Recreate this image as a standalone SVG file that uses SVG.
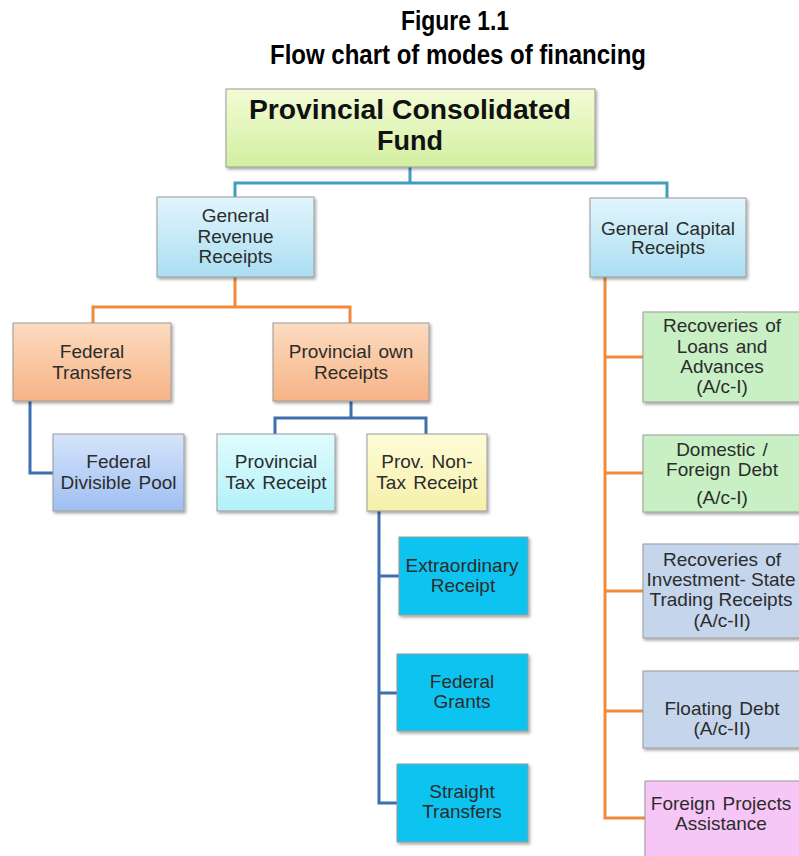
<svg xmlns="http://www.w3.org/2000/svg" width="799" height="856" viewBox="0 0 799 856">
<defs>
<linearGradient id="gTop" x1="0" y1="0" x2="0" y2="1"><stop offset="0" stop-color="#f3fcd6"/><stop offset="1" stop-color="#d2efa0"/></linearGradient>
<linearGradient id="gBlue" x1="0" y1="0" x2="0" y2="1"><stop offset="0" stop-color="#e2f5fc"/><stop offset="1" stop-color="#a9def2"/></linearGradient>
<linearGradient id="gOrange" x1="0" y1="0" x2="0" y2="1"><stop offset="0" stop-color="#fcdcc0"/><stop offset="1" stop-color="#f7b386"/></linearGradient>
<linearGradient id="gPool" x1="0" y1="0" x2="0" y2="1"><stop offset="0" stop-color="#d6e4fa"/><stop offset="1" stop-color="#9ebff2"/></linearGradient>
<linearGradient id="gCyan" x1="0" y1="0" x2="0" y2="1"><stop offset="0" stop-color="#e0fcfe"/><stop offset="1" stop-color="#b2f1f9"/></linearGradient>
<linearGradient id="gYellow" x1="0" y1="0" x2="0" y2="1"><stop offset="0" stop-color="#fefcd8"/><stop offset="1" stop-color="#f6f0aa"/></linearGradient>
<filter id="sh" x="-10%" y="-10%" width="125%" height="130%"><feDropShadow dx="1.5" dy="2" stdDeviation="1.5" flood-color="#000" flood-opacity="0.35"/></filter>
</defs>
<style>
.box{stroke:#9a9a9a;stroke-width:1;filter:url(#sh)}
.t{font-family:"Liberation Sans",Arial,sans-serif;font-size:19px;fill:#2c2c2c;text-anchor:middle;word-spacing:2px}
.title{font-family:"Liberation Sans Narrow","Liberation Sans",Arial,sans-serif;font-size:27px;font-weight:bold;fill:#000;text-anchor:middle}
.top{font-family:"Liberation Sans",Arial,sans-serif;font-size:27px;font-weight:bold;fill:#111;text-anchor:middle}
.teal{stroke:#3f9dbf;stroke-width:3;fill:none}
.org{stroke:#f28a3c;stroke-width:3;fill:none}
.blu{stroke:#3e6fae;stroke-width:3;fill:none}
</style>
<rect width="799" height="856" fill="#ffffff"/>
<g id="title">
<text class="title" x="455" y="30" textLength="108" lengthAdjust="spacingAndGlyphs">Figure 1.1</text>
<text class="title" x="458" y="64" textLength="376" lengthAdjust="spacingAndGlyphs">Flow chart of modes of financing</text>
</g>
<g id="connectors">
<path class="teal" d="M410,167 V183 M235,197 V183 H667 V198"/>
<path class="org" d="M235,277 V307 M93,323 V307 H350 V323"/>
<path class="blu" d="M30,401 V473 H53"/>
<path class="blu" d="M351,401 V418 M275,434 V418 H426 V434"/>
<path class="blu" d="M379,511 V803 H399 M379,576 H399 M379,693 H399"/>
<path class="org" d="M605,277 V818 H645 M605,357 H643 M605,473 H643 M605,591 H643 M605,711 H643"/>
</g>
<g id="n_fund">
<rect class="box" x="226" y="89" width="369" height="78" fill="url(#gTop)"/>
<text class="top" x="410" y="119" textLength="322" lengthAdjust="spacingAndGlyphs">Provincial Consolidated</text>
<text class="top" x="410" y="150">Fund</text>
</g>
<g id="n_grr">
<rect class="box" x="157" y="197" width="157" height="80" fill="url(#gBlue)"/>
<text class="t" x="235.5" y="222">General</text>
<text class="t" x="235.5" y="243">Revenue</text>
<text class="t" x="235.5" y="263">Receipts</text>
</g>
<g id="n_gcr">
<rect class="box" x="590" y="198" width="156" height="79" fill="url(#gBlue)"/>
<text class="t" x="668" y="235">General Capital</text>
<text class="t" x="668" y="254">Receipts</text>
</g>
<g id="n_ft">
<rect class="box" x="13" y="323" width="158" height="78" fill="url(#gOrange)"/>
<text class="t" x="92" y="358">Federal</text>
<text class="t" x="92" y="379">Transfers</text>
</g>
<g id="n_por">
<rect class="box" x="273" y="323" width="156" height="78" fill="url(#gOrange)"/>
<text class="t" x="351" y="358">Provincial own</text>
<text class="t" x="351" y="379">Receipts</text>
</g>
<g id="n_fdp">
<rect class="box" x="53" y="434" width="131" height="77" fill="url(#gPool)"/>
<text class="t" x="118.5" y="468">Federal</text>
<text class="t" x="118.5" y="489">Divisible Pool</text>
</g>
<g id="n_ptr">
<rect class="box" x="217" y="434" width="118" height="77" fill="url(#gCyan)"/>
<text class="t" x="276" y="468">Provincial</text>
<text class="t" x="276" y="489">Tax Receipt</text>
</g>
<g id="n_pntr">
<rect class="box" x="367" y="434" width="120" height="77" fill="url(#gYellow)"/>
<text class="t" x="427" y="468">Prov. Non-</text>
<text class="t" x="427" y="489">Tax Receipt</text>
</g>
<g id="n_er">
<rect class="box" x="399" y="537" width="129" height="78" fill="#0cc3f0"/>
<text class="t" x="462" y="572">Extraordinary</text>
<text class="t" x="463" y="592">Receipt</text>
</g>
<g id="n_fg">
<rect class="box" x="397" y="654" width="131" height="77" fill="#0cc3f0"/>
<text class="t" x="462" y="688">Federal</text>
<text class="t" x="462" y="708">Grants</text>
</g>
<g id="n_st">
<rect class="box" x="397" y="764" width="131" height="78" fill="#0cc3f0"/>
<text class="t" x="462" y="798">Straight</text>
<text class="t" x="462" y="818">Transfers</text>
</g>
<g id="n_rla">
<rect class="box" x="643" y="312" width="165" height="90" fill="#c8f0c4"/>
<text class="t" x="722" y="332">Recoveries of</text>
<text class="t" x="722" y="353">Loans and</text>
<text class="t" x="722" y="373">Advances</text>
<text class="t" x="722" y="393">(A/c-I)</text>
</g>
<g id="n_dfd">
<rect class="box" x="643" y="435" width="165" height="77" fill="#c8f0c4"/>
<text class="t" x="722" y="456">Domestic /</text>
<text class="t" x="722" y="476">Foreign Debt</text>
<text class="t" x="722" y="504">(A/c-I)</text>
</g>
<g id="n_ri">
<rect class="box" x="643" y="544" width="165" height="94" fill="#c4d5ec"/>
<text class="t" x="722" y="566">Recoveries of</text>
<text class="t" x="721" y="586" style="word-spacing:0">Investment- State</text>
<text class="t" x="721" y="606" style="word-spacing:0">Trading Receipts</text>
<text class="t" x="722" y="627">(A/c-II)</text>
</g>
<g id="n_fd">
<rect class="box" x="643" y="671" width="165" height="77" fill="#c4d5ec"/>
<text class="t" x="722" y="715">Floating Debt</text>
<text class="t" x="722" y="735">(A/c-II)</text>
</g>
<g id="n_fpa">
<rect class="box" x="645" y="781" width="165" height="90" fill="#f6c6f6"/>
<text class="t" x="721" y="810">Foreign Projects</text>
<text class="t" x="721" y="830">Assistance</text>
</g>
</svg>
